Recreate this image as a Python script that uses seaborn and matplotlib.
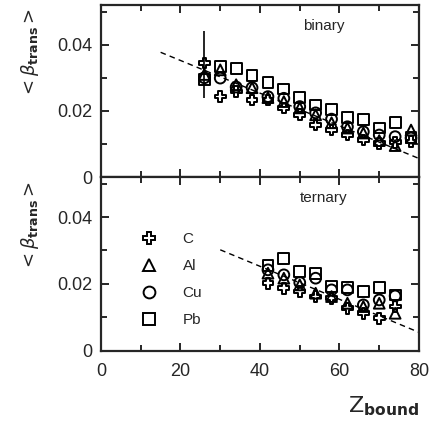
import numpy as np
import pandas as pd
import matplotlib
matplotlib.use("Agg")
import matplotlib.pyplot as plt
from matplotlib.lines import Line2D
from matplotlib.ticker import MultipleLocator
import seaborn as sns

# ── data ─────────────────────────────────────────────────────
targets = ["C", "Al", "Cu", "Pb"]
marker_map = {"C": "P", "Al": "^", "Cu": "o", "Pb": "s"}

# binary events
z_bin = [26, 30, 34, 38, 42, 46, 50, 54, 58, 62, 66, 70, 74, 78]
bin_C = [0.0345, 0.0243, 0.0259, 0.0233, 0.0233, 0.0209, 0.0188,
         0.0158, 0.0142, 0.0127, 0.0112, 0.0102, 0.0105, 0.0107]
bin_Al = [0.0310, 0.0324, 0.0279, 0.0270, 0.0240, 0.0228, 0.0209,
          0.0188, 0.0164, 0.0148, 0.0133, 0.0110, 0.0095, 0.0142]
bin_Cu = [0.0300, 0.0299, 0.0272, 0.0270, 0.0243, 0.0238, 0.0213,
          0.0194, 0.0175, 0.0152, 0.0137, 0.0127, 0.0122, 0.0118]
bin_Pb = [0.0294, 0.0334, 0.0327, 0.0307, 0.0286, 0.0266, 0.0240,
          0.0218, 0.0203, 0.0180, 0.0175, 0.0148, 0.0165, 0.0120]

# error bar on the first C point
err_z = [26]
err_y = [0.0345]
err_lo = [0.0105]
err_hi = [0.0095]

# ternary events
z_ter = [42, 46, 50, 54, 58, 62, 66, 70, 74]
ter_C = [0.0202, 0.0187, 0.0177, 0.0162, 0.0157, 0.0127, 0.0112, 0.0097, 0.0132]
ter_Al = [0.0232, 0.0217, 0.0197, 0.0172, 0.0162, 0.0142, 0.0132, 0.0142, 0.0112]
ter_Cu = [0.0242, 0.0227, 0.0204, 0.0217, 0.0182, 0.0182, 0.0137, 0.0152, 0.0164]
ter_Pb = [0.0254, 0.0277, 0.0237, 0.0232, 0.0192, 0.0190, 0.0177, 0.0190, 0.0167]

# dashed reference line (same in both panels)
line_bin_z = [15, 80]
line_bin_y = [0.0377, 0.0056]
line_ter_z = [30, 80]
line_ter_y = [0.0302, 0.0055]


def to_long(z, series):
    rows = []
    for name, vals in zip(targets, series):
        for zz, v in zip(z, vals):
            rows.append({"Z": zz, "beta": v, "target": name})
    return pd.DataFrame(rows)


df_bin = to_long(z_bin, [bin_C, bin_Al, bin_Cu, bin_Pb])
df_ter = to_long(z_ter, [ter_C, ter_Al, ter_Cu, ter_Pb])

# ── style ────────────────────────────────────────────────────
sns.set_style("ticks")
plt.rcParams["font.family"] = ["Liberation Sans", "DejaVu Sans"]
plt.rcParams["mathtext.fontset"] = "dejavusans"

fig = plt.figure(figsize=(4.38, 4.24), dpi=100)
ax1 = fig.add_axes([0.2306, 0.5825, 0.726, 0.4057])
ax2 = fig.add_axes([0.2306, 0.1729, 0.726, 0.4097])

ylab = r"$<\beta_{\mathbf{trans}}>$"

for ax, df, lz, ly, tag in [(ax1, df_bin, line_bin_z, line_bin_y, "binary"),
                            (ax2, df_ter, line_ter_z, line_ter_y, "ternary")]:
    ax.plot(lz, ly, ls=(0, (4, 3)), color="black", lw=1.0, zorder=1)
    sns.scatterplot(data=df, x="Z", y="beta", style="target",
                    markers=marker_map, style_order=targets,
                    s=60, facecolors="none", edgecolor="black",
                    linewidth=1.4, legend=False, ax=ax, zorder=3)
    ax.set_xlim(0, 80)
    ax.set_ylim(0, 0.052)
    ax.xaxis.set_major_locator(MultipleLocator(20))
    ax.xaxis.set_minor_locator(MultipleLocator(10))
    ax.yaxis.set_major_locator(MultipleLocator(0.02))
    ax.yaxis.set_minor_locator(MultipleLocator(0.01))
    ax.tick_params(which="both", direction="in", top=True, right=True,
                   width=1.4, labelsize=13)
    ax.tick_params(which="major", length=6)
    ax.tick_params(which="minor", length=4)
    ax.tick_params(axis="y", pad=6)
    ax.tick_params(axis="x", pad=9)
    for sp in ax.spines.values():
        sp.set_linewidth(1.6)
    ax.yaxis.set_major_formatter(plt.FuncFormatter(
        lambda v, p: "0" if v == 0 else f"{v:.2f}"))
    ax.set_ylabel(ylab, fontsize=13)
    ax.yaxis.set_label_coords(-0.19, 0.72)
    ax.text(0.70, 0.88, tag, transform=ax.transAxes, fontsize=11,
            ha="center", va="center")

ax1.errorbar(err_z, err_y, yerr=[err_lo, err_hi], fmt="none",
             ecolor="black", elinewidth=1.2, capsize=0, zorder=2)
ax1.set_xlabel("")
ax1.tick_params(axis="x", labelbottom=False)

ax2.set_xlabel(r"$\mathrm{Z}_{\mathbf{bound}}$", fontsize=16, loc="right")
ax2.xaxis.set_label_coords(1.0, -0.25)

handles = [Line2D([], [], marker=marker_map[t], ls="none", color="black",
                  markerfacecolor="none", markersize=8.5, markeredgewidth=1.4)
           for t in targets]
ax2.legend(handles, targets, loc="upper left", bbox_to_anchor=(0.06, 0.76),
           frameon=False, fontsize=11, handletextpad=1.2, labelspacing=0.85)

fig.savefig("out.png", dpi=100)
